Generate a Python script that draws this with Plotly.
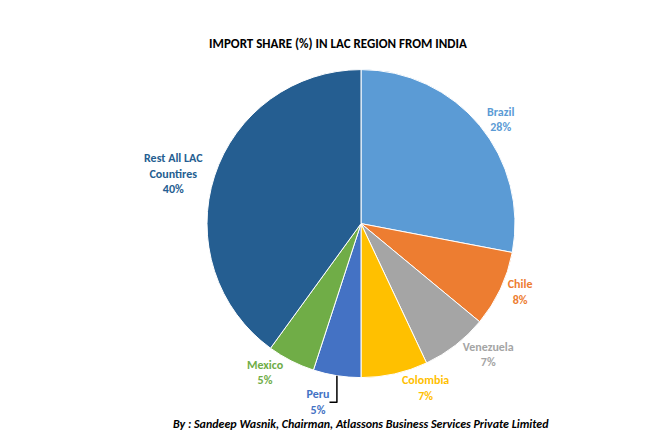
import plotly.graph_objects as go

categories = ["Brazil", "Chile", "Venezuela", "Colombia", "Peru", "Mexico", "Rest All LAC<br>Countires"]
values = [28, 8, 7, 7, 5, 5, 40]
colors = ["#5B9BD5", "#ED7D31", "#A5A5A5", "#FFC000", "#4472C4", "#70AD47", "#255E91"]
text_colors = ["#5B9BD5", "#ED7D31", "#A5A5A5", "#FFC000", "#4472C4", "#70AD47", "#255E91"]

fig = go.Figure(go.Pie(
    labels=categories, values=values, sort=False, direction="clockwise", rotation=0,
    domain=dict(x=[0.12, 0.88], y=[0.16, 0.86]),
    marker=dict(colors=colors, line=dict(color="white", width=1)),
    texttemplate="<b>%{label}<br>%{value}%</b>", textposition="outside",
    outsidetextfont=dict(color=text_colors, size=12, family="Calibri, Liberation Sans, Arial"),
    showlegend=False, hoverinfo="label+percent",
))
fig.update_layout(
    width=660, height=440, paper_bgcolor="white",
    margin=dict(l=0, r=0, t=0, b=0),
    title=dict(text="<b>IMPORT SHARE (%) IN LAC REGION FROM INDIA</b>", x=0.5, y=0.93,
               font=dict(size=13, color="#000", family="Calibri, Liberation Sans, Arial")),
    font=dict(family="Calibri, Liberation Sans, Arial"),
    annotations=[dict(text="<b><i>By : Sandeep Wasnik, Chairman, Atlassons Business Services Private Limited</i></b>",
                      x=0.5, y=0.035, xref="paper", yref="paper", yanchor="bottom", showarrow=False,
                      font=dict(size=12, color="#000"))],
)
fig.write_html("out.html")
